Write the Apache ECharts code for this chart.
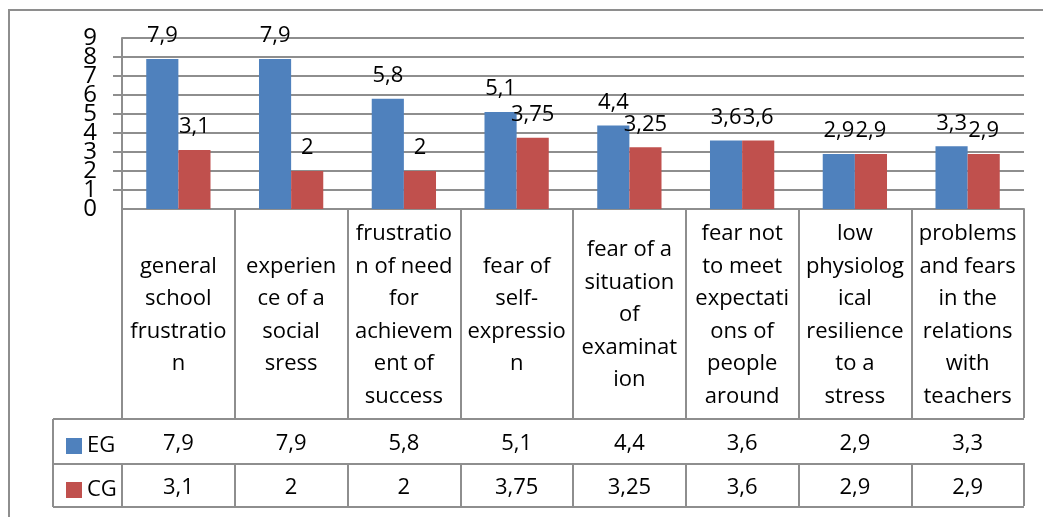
<!DOCTYPE html>
<html>
<head>
<meta charset="utf-8">
<script src="https://cdn.jsdelivr.net/npm/echarts@6/dist/echarts.min.js"></script>
<style>
  html, body { margin: 0; padding: 0; background: #fff; }
  #chart { width: 1043px; height: 517px; }
</style>
</head>
<body>
<div id="chart"></div>
<script>
// category labels, wrapped the way the picture shows them
const categories = [
    'general\nschool\nfrustratio\nn',
    'experien\nce of a\nsocial\nsress',
    'frustratio\nn of need\nfor\nachievem\nent of\nsuccess',
    'fear of\nself-\nexpressio\nn',
    'fear of a\nsituation\nof\nexaminat\nion',
    'fear not\nto meet\nexpectati\nons of\npeople\naround',
    'low\nphysiolog\nical\nresilience\nto a\nstress',
    'problems\nand fears\nin the\nrelations\nwith\nteachers'
];
const seriesNames = ['EG', 'CG'];
const egValues = [7.9, 7.9, 5.8, 5.1, 4.4, 3.6, 2.9, 3.3];
const cgValues = [3.1, 2, 2, 3.75, 3.25, 3.6, 2.9, 2.9];
const yTicks = [0, 1, 2, 3, 4, 5, 6, 7, 8, 9];

const FONT = '"Open Sans", sans-serif';
const GRID_COL = '#8e8e8e';
const fmt = v => String(v).replace('.', ',');
const yMin = yTicks[0];
const yMax = yTicks[yTicks.length - 1];

const chart = echarts.init(document.getElementById('chart'));

// table row axes: each one draws a row of values and the cell dividers
const tableAxis = (values, offset, rowH) => ({
    type: 'category',
    gridIndex: 0,
    position: 'bottom',
    offset: offset,
    data: values.map(fmt),
    axisLine: { show: false },
    axisTick: { show: true, interval: 0, length: rowH, lineStyle: { color: GRID_COL, width: 2 } },
    axisLabel: {
        interval: 0, margin: rowH / 2 + 3, verticalAlign: 'middle',
        fontFamily: FONT, fontSize: 22, color: '#000'
    }
});

const yLabel = { margin: 25, fontFamily: FONT, fontSize: 24, color: '#000', hideOverlap: false };

const option = {
    animation: false,
    backgroundColor: '#fff',
    grid: { left: 122, right: 19, top: 38, bottom: 308 },
    legend: {
        orient: 'vertical',
        left: 61,
        top: 430,
        itemWidth: 16,
        itemHeight: 16,
        itemGap: 22,
        icon: 'rect',
        data: seriesNames,
        textStyle: { fontFamily: FONT, fontSize: 22, color: '#000', lineHeight: 22 }
    },
    xAxis: [
        {
            type: 'category',
            data: categories,
            axisLine: { lineStyle: { color: GRID_COL, width: 2 } },
            axisTick: { show: false },
            axisLabel: {
                interval: 0, margin: 106, verticalAlign: 'middle',
                fontFamily: FONT, fontSize: 22, lineHeight: 32.5, color: '#000'
            }
        },
        tableAxis(egValues, 209, 45),
        tableAxis(cgValues, 254, 43),
        {
            // column dividers under the plot, down to the value rows
            type: 'category',
            position: 'bottom',
            offset: 0,
            data: categories,
            axisLine: { show: false },
            axisLabel: { show: false },
            axisTick: { show: true, interval: 0, length: 209, lineStyle: { color: GRID_COL, width: 2 } }
        }
    ],
    yAxis: [
        {
            type: 'value',
            min: yMin, max: yMax, interval: 1,
            axisLine: { show: true, lineStyle: { color: GRID_COL, width: 2 } },
            axisTick: { show: true, length: 9, lineStyle: { color: GRID_COL, width: 2 } },
            axisLabel: Object.assign({ showMinLabel: false, showMaxLabel: false }, yLabel),
            splitLine: { lineStyle: { color: GRID_COL, width: 2 } }
        },
        {
            // second copy of the scale, only for the end labels (0 and 9)
            type: 'value',
            position: 'left',
            min: yMin, max: yMax, interval: 1,
            axisLine: { show: false },
            axisTick: { show: false },
            splitLine: { show: false },
            axisLabel: Object.assign({
                showMinLabel: true, showMaxLabel: true,
                formatter: v => (v === yMin || v === yMax) ? String(v) : ''
            }, yLabel)
        }
    ],
    series: [
        {
            name: seriesNames[0],
            type: 'bar',
            data: egValues,
            barGap: 0,
            barCategoryGap: '43%',
            itemStyle: { color: '#4F81BD' },
            label: { show: true, position: 'top', distance: 12, formatter: p => fmt(p.value),
                     fontFamily: FONT, fontSize: 22, color: '#000' }
        },
        {
            name: seriesNames[1],
            type: 'bar',
            data: cgValues,
            barGap: 0,
            barCategoryGap: '43%',
            itemStyle: { color: '#C0504D' },
            label: { show: true, position: 'top', distance: 12, formatter: p => fmt(p.value),
                     fontFamily: FONT, fontSize: 22, color: '#000' }
        }
    ],
    graphic: [
        // outer chart border
        { type: 'rect', shape: { x: 9, y: 10, width: 1100, height: 600 },
          style: { fill: 'none', stroke: GRID_COL, lineWidth: 2 }, silent: true },
        // data table frame
        { type: 'line', shape: { x1: 53, y1: 419, x2: 1024, y2: 419 }, style: { stroke: GRID_COL, lineWidth: 2 } },
        { type: 'line', shape: { x1: 53, y1: 464, x2: 1024, y2: 464 }, style: { stroke: GRID_COL, lineWidth: 2 } },
        { type: 'line', shape: { x1: 53, y1: 507, x2: 1024, y2: 507 }, style: { stroke: GRID_COL, lineWidth: 2 } },
        { type: 'line', shape: { x1: 53, y1: 419, x2: 53, y2: 507 }, style: { stroke: GRID_COL, lineWidth: 2 } }
    ]
};

chart.setOption(option);
</script>
</body>
</html>
